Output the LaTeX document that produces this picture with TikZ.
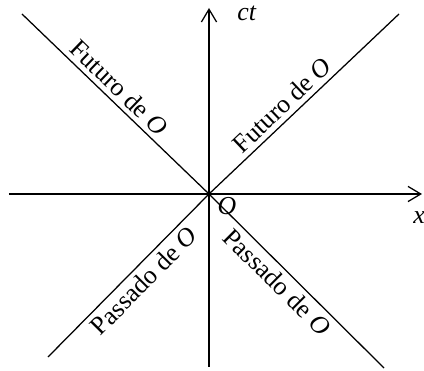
\documentclass[tikz,border=0pt]{standalone}
\usepackage{fontspec}
\setmainfont{Liberation Serif}
\usepackage{tikz}
\usetikzlibrary{arrows.meta}

\begin{document}
\begin{tikzpicture}[line width=0.9pt, >={Straight Barb[length=3.2mm,width=3.8mm]},
  lbl/.style={font=\fontsize{18.4}{22}\selectfont},
  cone/.style={lbl, sloped}]
\useasboundingbox (-5.225,-4.425) rectangle (5.375,4.85);

% Axes
\coordinate (O) at (0,0);
\draw[->] (-5,0) -- (5.325,0);
\draw[->] (0,-4.325) -- (0,4.65);
\node[lbl] (ctlabel) at (0.95,4.525) {\textit{ct}};
\node[lbl] (xlabel) at (5.25,-0.6) {\textit{x}};
\node[lbl] (olabel) at (0.45,-0.3) {\textit{O}};

% Future of O
\draw (O) -- (-4.675,4.5) node[cone, pos=0.533, above] (futL) {Futuro de \textit{O}};
\draw (O) -- (4.75,4.5) node[cone, pos=0.436, above] (futR) {Futuro de \textit{O}};

% Past of O
\draw (O) -- (-4.025,-4.075) node[cone, pos=0.47, below] (pasL) {Passado de \textit{O}};
\draw (O) -- (4.375,-4.35) node[cone, pos=0.448, below] (pasR) {Passado de \textit{O}};

\end{tikzpicture}
\end{document}
